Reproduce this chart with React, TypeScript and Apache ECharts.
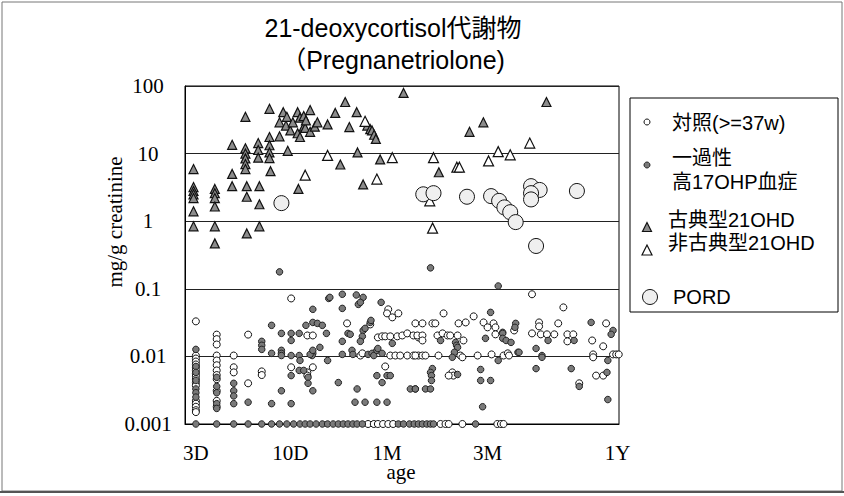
import { useEffect, useRef } from "react";
import * as echarts from "echarts";

// age axis ticks (days) and their labels
const AGE_TICK_DAYS = [3, 10, 30, 90, 365];
const AGE_TICK_LABELS = ["3D", "10D", "1M", "3M", "1Y"];
const Y_TICK_LABELS = ["0.001", "0.01", "0.1", "1", "10", "100"];

// [age in days, mg/g creatinine]
const CONTROL: [number, number][] = [
  [3, 0.033], [3, 0.0103], [3, 0.0093], [3, 0.0084], [3, 0.0076], [3, 0.0069], [3, 0.0062], [3, 0.0056], [3, 0.0051], [3, 0.0046], [3, 0.0041], [3, 0.0037], [3, 0.0022], [3, 0.002], [3, 0.0018], [3, 0.0016], [3, 0.0015],
  [4, 0.021], [4, 0.018], [4, 0.015], [4, 0.0103], [4, 0.0087], [4, 0.0074], [4, 0.0062], [4, 0.0053], [4, 0.0046], [4, 0.0031], [4, 0.0022], [4, 0.0018],
  [5, 0.0103], [5, 0.0069], [5, 0.0058], [6, 0.021], [6, 0.004], [7.1, 0.006], [7.1, 0.0053], [10.1, 0.072], [10.1, 0.0069],
  [30.4, 0.0497], [30, 0.0433], [34, 0.0433], [31.8, 0.0378], [19.2, 0.0308], [24.9, 0.0297], [41, 0.0308], [12.2, 0.0204], [13, 0.0204],
  [27.1, 0.0191], [28.4, 0.0198], [29.4, 0.0198], [31.1, 0.0198], [33.6, 0.0198], [35.5, 0.0204], [37.5, 0.0219], [40.1, 0.0204], [42.4, 0.0191],
  [22.3, 0.0103], [22.8, 0.0111], [31.1, 0.0103], [32.9, 0.0103], [34.7, 0.0103], [37.5, 0.0103], [40.1, 0.0103], [42.4, 0.0103],
  [13, 0.0069], [12.2, 0.0058], [12.2, 0.0052], [29.4, 0.0071],
  [55.8, 0.0433], [77.4, 0.0391], [44.3, 0.0308], [49.4, 0.0308], [51, 0.0308], [65.7, 0.0308], [71, 0.0318], [86.2, 0.0318], [90, 0.0269], [96, 0.0308], [98, 0.0269],
  [41.9, 0.0204], [44.3, 0.0204], [44.3, 0.0172], [52.2, 0.0204], [55.2, 0.0219], [58.3, 0.0204], [60, 0.0204], [65, 0.0204], [69.3, 0.0172], [98, 0.0212], [120, 0.0242],
  [41, 0.0103], [44.3, 0.0103], [45.8, 0.0103], [52.8, 0.0103], [67, 0.0103], [68.5, 0.0097], [80.8, 0.0103], [94, 0.0107], [107, 0.0103], [112, 0.0111], [113.5, 0.0103],
  [61.4, 0.0058], [62.1, 0.0052], [59, 0.0052],
  [145.5, 0.083], [204, 0.0531], [157, 0.0318], [157, 0.0278], [193, 0.0308], [323, 0.0308], [145.5, 0.0219], [160, 0.0212], [171, 0.0212], [185, 0.0212], [213, 0.0212], [227, 0.0212],
  [213, 0.0167], [278, 0.0172], [313, 0.0141], [281, 0.0107], [281, 0.0097], [348, 0.0107], [360, 0.0107], [370, 0.0107], [290, 0.0052], [313, 0.0052], [242, 0.004],
  [24.3, 0.001], [25.9, 0.001], [27.1, 0.001], [28.7, 0.001], [30.4, 0.001], [32.1, 0.001], [54, 0.001], [57, 0.001], [59, 0.001], [68.5, 0.001], [100, 0.001], [104, 0.001], [107, 0.001],
];

const TRANSIENT: [number, number][] = [
  [3, 0.0127], [3, 0.0071], [3, 0.0058], [3, 0.0044], [3, 0.0033], [3, 0.0029], [3, 0.0025],
  [4, 0.0049], [4, 0.0036], [4, 0.0029], [4, 0.002], [4, 0.0017],
  [5, 0.004], [5, 0.0031], [5, 0.0026], [5, 0.002], [6, 0.0021],
  [7.1, 0.0167], [7.1, 0.0146], [7.1, 0.0127], [8, 0.0288], [8, 0.0111], [8, 0.002], [10.1, 0.002],
  [9, 0.0219], [10.1, 0.0219], [11.1, 0.0219], [10.1, 0.0172], [9, 0.0123], [9, 0.0111], [9, 0.0103], [10.1, 0.0103], [11.1, 0.0103], [11.2, 0.0087], [11.1, 0.0062], [10.1, 0.0052], [9, 0.0031],
  [8.8, 0.178],
  [18.2, 0.083], [21.3, 0.081], [15.6, 0.072], [15.8, 0.0747], [23, 0.0747], [13, 0.0497], [18.2, 0.0513], [21.8, 0.0588], [22.3, 0.063], [28.1, 0.063],
  [12, 0.0288], [13, 0.0318], [13.7, 0.0308], [14.5, 0.0288], [15.2, 0.0219], [19.4, 0.0219], [19.9, 0.0212], [23, 0.0242], [23.5, 0.026], [22.8, 0.0198], [22.3, 0.0167], [18.2, 0.0167], [24.9, 0.0318], [25.1, 0.0341], [31.8, 0.0156],
  [13, 0.0111], [12.9, 0.0103], [12.6, 0.0107], [13, 0.0123], [14.1, 0.0136], [15.4, 0.0087], [18.2, 0.0107], [20.3, 0.0123], [20.5, 0.0107], [24.3, 0.0107], [25.4, 0.0111], [25.9, 0.0103], [26.8, 0.0123], [27.1, 0.0131], [28.4, 0.0111],
  [11.7, 0.0062], [12.3, 0.0049], [12.3, 0.004], [13, 0.0031], [17.4, 0.0041], [21.5, 0.0033], [26.8, 0.0052], [30, 0.0052], [31.1, 0.0052], [28.4, 0.0041], [21, 0.0021], [23.5, 0.0021], [26.8, 0.0021], [30, 0.0021], [38.8, 0.0033], [41, 0.0033],
  [93, 0.0448], [122, 0.0308], [121, 0.0269], [106, 0.0227], [106, 0.0219], [88, 0.0185], [63.6, 0.0161], [64.3, 0.0146], [65, 0.0136], [62.8, 0.0115], [61.4, 0.0097], [54, 0.0172], [106, 0.0185], [110, 0.0172], [116, 0.0161], [101, 0.0087],
  [49.4, 0.0066], [48.4, 0.0058], [48.9, 0.0052], [48.9, 0.0044], [65, 0.0054], [83.5, 0.0064], [83.5, 0.0044], [93, 0.0044], [41, 0.0033], [45.8, 0.0033], [48.4, 0.0033], [85.3, 0.0018], [101, 0.11], [125, 0.0115], [48.4, 0.204],
  [275, 0.0318], [348, 0.0242], [341, 0.0212], [173, 0.0172], [229, 0.0172], [152, 0.0131], [162, 0.0103], [162, 0.0097], [126.5, 0.0115], [152, 0.0066], [222, 0.0066], [329, 0.0087], [326, 0.0058], [242, 0.0036], [329, 0.0023],
  [3, 0.001], [4, 0.001], [5, 0.001], [6, 0.001], [7.1, 0.001], [8, 0.001], [8.8, 0.001], [9.6, 0.001], [10.4, 0.001], [11.2, 0.001], [11.9, 0.001], [12.6, 0.001], [13.5, 0.001], [14.5, 0.001], [15.4, 0.001], [16.4, 0.001],
  [17.4, 0.001], [18.4, 0.001], [19.4, 0.001], [20.5, 0.001], [21.5, 0.001], [22.8, 0.001], [34, 0.001], [36, 0.001], [38.4, 0.001], [40.5, 0.001], [42.4, 0.001], [44.3, 0.001], [46.5, 0.001], [48.4, 0.001], [50, 0.001], [79, 0.001],
];

const CLASSIC: [number, number][] = [
  [2.9, 5.9], [2.9, 3.2], [2.9, 2.8], [2.9, 2.5], [2.9, 2.2], [2.9, 1.4], [2.9, 0.84],
  [3.9, 3.0], [3.9, 2.6], [3.9, 2.2], [3.9, 1.65], [3.9, 0.84], [3.9, 0.47],
  [4.9, 13.5], [4.9, 5.0], [4.9, 3.3],
  [5.8, 35], [5.8, 12], [5.8, 10], [5.8, 8.5], [5.8, 7.0], [5.8, 5.9], [5.9, 3.3], [5.9, 2.3], [5.9, 0.66],
  [6.8, 14.3], [6.8, 11.3], [6.8, 8.7], [6.9, 3.3], [6.9, 1.78], [6.9, 0.84],
  [7.8, 46], [7.8, 17.6], [7.8, 13.3], [7.8, 10.4], [7.8, 8.6], [7.9, 5.5],
  [8.8, 18], [8.8, 29], [9.2, 41], [9.5, 26], [9.6, 35], [9.7, 11], [10, 22], [10.3, 29],
  [10.9, 41], [10.9, 20], [11, 3.0], [11.2, 34], [11.2, 17.6], [11.7, 36], [11.7, 25], [11.9, 24], [12, 31],
  [12.6, 44], [12.6, 21], [13.3, 25], [13.7, 29], [15.4, 27], [16.8, 40], [18.8, 58], [19.7, 24.7], [21.4, 41],
  [24.1, 26], [24.9, 23], [25.4, 22], [26, 19], [26.5, 16.5], [21.6, 10.4], [17.8, 6.9], [27.8, 8.2], [23, 3.5],
  [36, 79], [53, 5.3], [74, 21], [86, 29], [170, 58],
];

const NONCLASSIC: [number, number][] = [
  [11.9, 4.8], [15.4, 9.4], [23.5, 30], [26.8, 4.2], [31.8, 8.7], [50, 8.7], [64.5, 6.3], [66.3, 6.3],
  [91, 7.8], [101, 10.7], [115, 9.6], [142, 14.3], [49.5, 0.79], [48, 2.0],
];

const PORD: [number, number][] = [
  [9, 1.85], [44.7, 2.5], [50, 2.6], [72, 2.3], [93.5, 2.35], [102, 2.0], [108, 1.6], [115, 1.36],
  [122, 0.97], [144, 3.3], [158, 2.9], [144, 2.6], [144, 2.1], [236, 2.8], [152, 0.43],
];

const toX = (d: number) => Math.log10(d + 1);

export default function App() {
  const ref = useRef<HTMLDivElement>(null);
  useEffect(() => {
    const chart = echarts.init(ref.current!, null, { renderer: "svg" });
    const serif = '"Liberation Serif", "Times New Roman", serif';
    const sans = '"Liberation Sans", "Noto Sans CJK JP", sans-serif';
    const mk = (arr: [number, number][]) => arr.map(([d, v]) => [toX(d), v]);
    const tickXs = AGE_TICK_DAYS.map(toX);
    const xLabel = (v: number) => {
      let best = 0;
      tickXs.forEach((t, i) => {
        if (Math.abs(t - v) < Math.abs(tickXs[best] - v)) best = i;
      });
      return AGE_TICK_LABELS[best];
    };
    const txt = (text: string, x: number, y: number, size: number, font: string, align = "left", extra: any = {}) => ({
      type: "text",
      x,
      y,
      silent: true,
      ...extra,
      style: { text, fill: "#000", fontSize: size, fontFamily: font, textAlign: align, textVerticalAlign: "middle" },
    });
    chart.setOption({
      animation: false,
      grid: { left: 185, right: 225, top: 86, bottom: 72, show: true, borderColor: "#000", borderWidth: 1 },
      xAxis: {
        type: "value",
        min: toX(2.56),
        max: toX(371),
        axisLine: { show: true, lineStyle: { color: "#000" } },
        axisTick: { show: false, customValues: tickXs },
        splitLine: { show: false },
        axisLabel: { customValues: tickXs, formatter: xLabel, fontFamily: serif, fontSize: 21, color: "#000", margin: 18 },
      },
      yAxis: {
        type: "log",
        logBase: 10,
        min: 0.001,
        max: 100,
        axisLine: { show: true, lineStyle: { color: "#000" } },
        axisTick: { show: false },
        splitLine: { show: true, lineStyle: { color: "#222", width: 1 } },
        axisLabel: {
          formatter: (v: number) => Y_TICK_LABELS[Math.round(Math.log10(v)) + 3],
          align: "center",
          margin: 37,
          fontFamily: serif,
          fontSize: 21,
          color: "#000",
        },
      },
      series: [
        { type: "scatter", name: "対照", data: mk(CONTROL), symbol: "circle", symbolSize: 7, clip: false, silent: true,
          itemStyle: { color: "#fff", borderColor: "#111", borderWidth: 1, opacity: 1 } },
        { type: "scatter", name: "一過性", data: mk(TRANSIENT), symbol: "circle", symbolSize: 6.5, clip: false, silent: true,
          itemStyle: { color: "#7a7a7a", borderColor: "#222", borderWidth: 1, opacity: 1 } },
        { type: "scatter", name: "古典型", data: mk(CLASSIC), symbol: "triangle", symbolSize: 9, clip: false, silent: true,
          itemStyle: { color: "#8c8c8c", borderColor: "#111", borderWidth: 1.2, opacity: 1 } },
        { type: "scatter", name: "非古典型", data: mk(NONCLASSIC), symbol: "triangle", symbolSize: 10, clip: false, silent: true,
          itemStyle: { color: "#fff", borderColor: "#111", borderWidth: 1.2, opacity: 1 } },
        { type: "scatter", name: "PORD", data: mk(PORD), symbol: "circle", symbolSize: 15, clip: false, silent: true,
          itemStyle: { color: "#efefef", borderColor: "#111", borderWidth: 1, opacity: 1 } },
      ],
      graphic: [
        { type: "rect", silent: true, shape: { x: 2, y: 2, width: 840, height: 489 }, style: { fill: "none", stroke: "#777", lineWidth: 1 } },
        { type: "line", silent: true, shape: { x1: 0, y1: 492, x2: 844, y2: 492 }, style: { stroke: "#555", lineWidth: 2 } },
        txt("21-deoxycortisol代謝物", 393, 28, 25, sans, "center"),
        txt("（Pregnanetriolone)", 393, 60, 25, sans, "center"),
        txt("mg/g creatinine", 115, 222, 21, serif, "center", { rotation: Math.PI / 2 }),
        txt("age", 401, 472, 21, serif, "center"),
        { type: "rect", silent: true, shape: { x: 630, y: 98, width: 208, height: 214 }, style: { fill: "#fff", stroke: "#000", lineWidth: 1 } },
        { type: "circle", silent: true, shape: { cx: 647, cy: 122, r: 3 }, style: { fill: "#fff", stroke: "#111", lineWidth: 1 } },
        txt("対照(>=37w)", 672, 123, 20, sans),
        { type: "circle", silent: true, shape: { cx: 647, cy: 165, r: 3 }, style: { fill: "#7a7a7a", stroke: "#222", lineWidth: 1 } },
        txt("一過性", 672, 158, 20, sans),
        txt("高17OHP血症", 672, 182, 20, sans),
        { type: "polygon", silent: true, shape: { points: [[647, 222.5], [642.5, 231.5], [651.5, 231.5]] }, style: { fill: "#8c8c8c", stroke: "#111", lineWidth: 1.2 } },
        txt("古典型21OHD", 668, 220, 20, sans),
        { type: "polygon", silent: true, shape: { points: [[647, 245], [642, 255], [652, 255]] }, style: { fill: "#fff", stroke: "#111", lineWidth: 1.2 } },
        txt("非古典型21OHD", 668, 243, 20, sans),
        { type: "circle", silent: true, shape: { cx: 650, cy: 297, r: 7.5 }, style: { fill: "#efefef", stroke: "#111", lineWidth: 1 } },
        txt("PORD", 673, 297, 20, sans),
      ],
    });
    return () => chart.dispose();
  }, []);
  return <div ref={ref} style={{ position: "fixed", left: 0, top: 0, width: 844, height: 496, background: "#fff" }} />;
}
